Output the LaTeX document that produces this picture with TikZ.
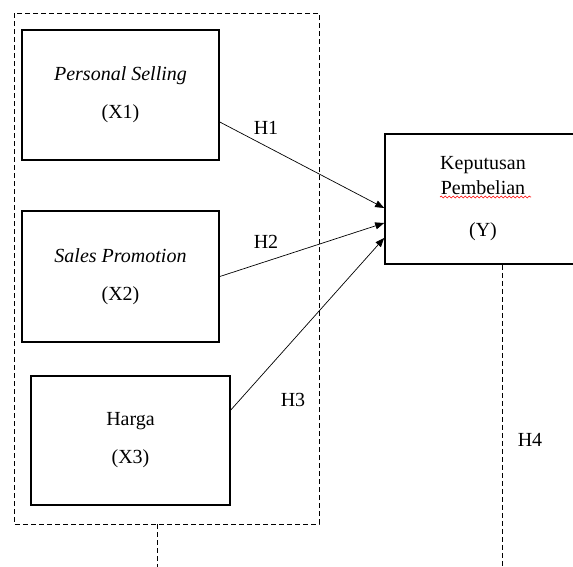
\documentclass[tikz,border=0pt]{standalone}
\usepackage{fontspec}
\setmainfont{Liberation Serif}
\usetikzlibrary{decorations.pathmorphing,arrows.meta}
\begin{document}
\begin{tikzpicture}[x=1pt,y=-1pt,
  varbox/.style={draw,line width=1.6pt,align=center,inner sep=0pt,font=\fontsize{20}{38}\selectfont},
  link/.style={line width=0.7pt,-{Triangle[length=9pt,width=7pt]}},
  frame/.style={line width=0.8pt,dash pattern=on 5pt off 3pt},
  hlab/.style={font=\fontsize{20}{24}\selectfont}]
\clip (0,0) rectangle (573,566);
\fill[white] (0,0) rectangle (573,566);
% outer dashed frame
\draw[frame] (14,13) rectangle (319,524);
\coordinate (stubtop) at (157,524);
\coordinate (stubend) at (157,570);
\draw[frame] (stubtop) -- (stubend);
% boxes
\node[varbox,minimum width=197pt,minimum height=130pt] (X1) at (120.5,95) {\textit{Personal Selling}\\(X1)};
\node[varbox,minimum width=197pt,minimum height=131pt] (X2) at (120.5,276.5) {\textit{Sales Promotion}\\(X2)};
\node[varbox,minimum width=199pt,minimum height=129pt] (X3) at (130.5,440.5) {Harga\\(X3)};
\node[varbox,minimum width=196pt,minimum height=130pt,font=\fontsize{20}{25}\selectfont] (Y) at (483,199) {Keputusan\\Pembelian\\[17pt](Y)};
% spell-check underline
\draw[red,line width=0.6pt,decorate,decoration={snake,amplitude=0.9pt,segment length=4pt}] (440,197) -- (531,197);
% arrows
\draw[link] ([yshift=-27pt]X1.east) -- ([yshift=-9pt]Y.west);
\draw[link] (X2.east) -- ([yshift=-24pt]Y.west);
\draw[link] ([yshift=30.5pt]X3.east) -- ([yshift=-39pt]Y.west);
% H4 dashed line
\coordinate (h4end) at (502,570);
\draw[frame] ([xshift=19pt]Y.south) -- (h4end);
% labels
\node[hlab] (h1) at (266,128) {H1};
\node[hlab] (h2) at (266,242) {H2};
\node[hlab] (h3) at (293,400) {H3};
\node[hlab] (h4) at (530,440) {H4};
\end{tikzpicture}
\end{document}
